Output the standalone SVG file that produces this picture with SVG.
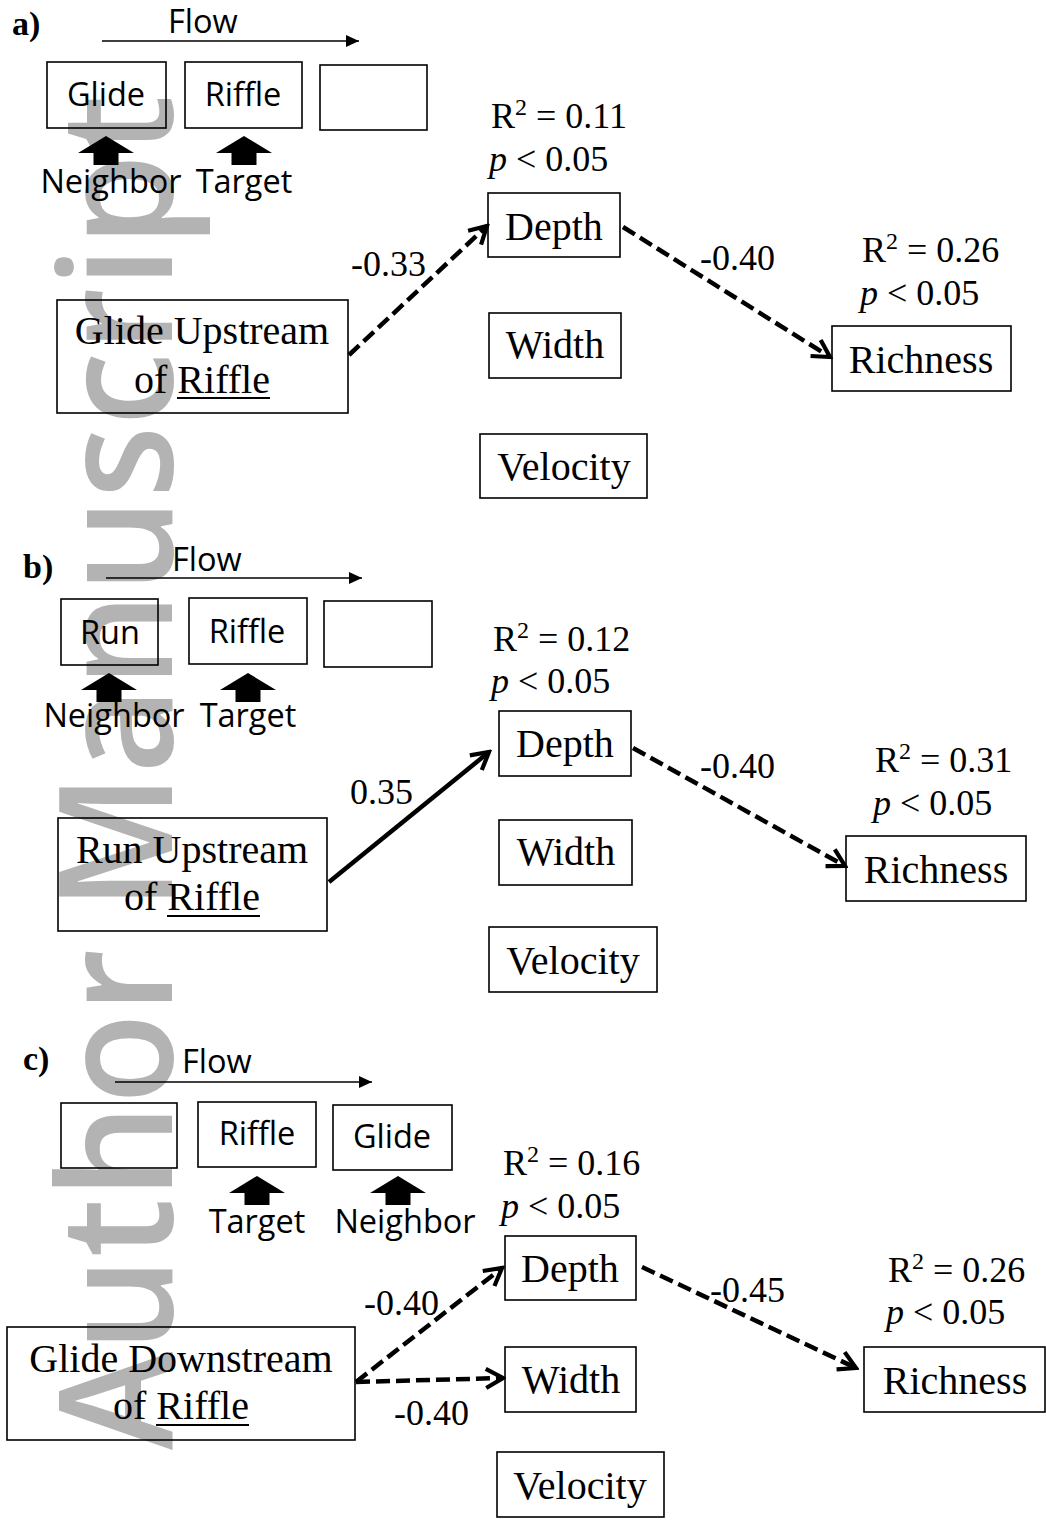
<svg xmlns="http://www.w3.org/2000/svg" width="1046" height="1522" viewBox="0 0 1046 1522">
<style>
.wm{font-family:"Open Sans","Noto Sans",sans-serif;font-size:157px;font-weight:600;fill:#b3b3b3}
.box{fill:none;stroke:#000;stroke-width:1.6}
.sans{font-family:"Open Sans","Noto Sans",sans-serif;font-size:32.5px;fill:#000}
.ser{font-family:"Liberation Serif","Times New Roman",serif;font-size:40px;fill:#000}
.lab{font-family:"Liberation Serif","Times New Roman",serif;font-size:36px;fill:#000}
.pl{font-family:"Liberation Serif","Times New Roman",serif;font-size:34px;font-weight:bold;fill:#000}
.flow{stroke:#000;stroke-width:1.6;fill:none}
.dash{stroke:#000;stroke-width:4.5;fill:none;stroke-dasharray:14 6}
.solid{stroke:#000;stroke-width:4.5;fill:none}
.ul{stroke:#000;stroke-width:1.8}
</style>
<defs>
<marker id="chev" viewBox="0 0 24 24" refX="21" refY="12" markerWidth="24" markerHeight="24" markerUnits="userSpaceOnUse" orient="auto">
<path d="M4,2.5 L21,12 L4,21.5" fill="none" stroke="#000" stroke-width="4.2"/>
</marker>
<marker id="tri" viewBox="0 0 13 12" refX="13" refY="6" markerWidth="13" markerHeight="12" markerUnits="userSpaceOnUse" orient="auto">
<path d="M0,0 L13,6 L0,12 Z" fill="#000"/>
</marker>
<path id="up" d="M0,0 L28,17 L12.5,17 L12.5,29 L-12.5,29 L-12.5,17 L-28,17 Z" fill="#000"/>
</defs>

<text class="wm" transform="translate(172,1450) rotate(-90)" textLength="1355" lengthAdjust="spacingAndGlyphs">Author Manuscript</text>

<!-- Panel a -->
<g id="panel-a">
<text class="pl" x="12" y="35">a)</text>
<text class="sans" x="168" y="33">Flow</text>
<g id="a-glide"><rect class="box" x="47" y="62" width="119" height="66"/><text class="sans" x="106" y="106" text-anchor="middle">Glide</text></g>
<g id="a-riffle"><rect class="box" x="185" y="62" width="117" height="66"/><text class="sans" x="243" y="106" text-anchor="middle">Riffle</text></g>
<g id="a-empty"><rect class="box" x="320" y="65" width="107" height="65"/></g>
<use href="#up" x="106" y="136"/>
<use href="#up" x="244" y="136"/>
<text class="sans" x="111" y="193" text-anchor="middle">Neighbor</text>
<text class="sans" x="244" y="193" text-anchor="middle">Target</text>
<g id="a-stats1"><text class="lab" x="491" y="128">R<tspan font-size="24" dy="-13">2</tspan><tspan dy="13"> = 0.11</tspan></text>
<text class="lab" x="489" y="171"><tspan font-style="italic">p</tspan> &lt; 0.05</text></g>
<g id="a-depth"><rect class="box" x="488" y="193" width="132" height="64"/><text class="ser" x="554" y="240" text-anchor="middle">Depth</text></g>
<g id="a-width"><rect class="box" x="489" y="313" width="132" height="65"/><text class="ser" x="555" y="358" text-anchor="middle">Width</text></g>
<g id="a-velocity"><rect class="box" x="480" y="434" width="167" height="64"/><text class="ser" x="564" y="480" text-anchor="middle">Velocity</text></g>
<g id="a-source"><rect class="box" x="57" y="300" width="291" height="113"/><text class="ser" x="202" y="344" text-anchor="middle">Glide Upstream</text><text class="ser" x="202" y="393" text-anchor="middle">of Riffle</text><line class="ul" x1="177" y1="398" x2="270" y2="398"/></g>
<g id="a-stats2"><text class="lab" x="862" y="262">R<tspan font-size="24" dy="-13">2</tspan><tspan dy="13"> = 0.26</tspan></text>
<text class="lab" x="860" y="305"><tspan font-style="italic">p</tspan> &lt; 0.05</text></g>
<g id="a-richness"><rect class="box" x="832" y="326" width="179" height="65"/><text class="ser" x="921" y="373" text-anchor="middle">Richness</text></g>
</g>

<!-- Panel b -->
<g id="panel-b">
<text class="pl" x="23" y="578">b)</text>
<text class="sans" x="172" y="571">Flow</text>
<g id="b-run"><rect class="box" x="61" y="599" width="97" height="66"/><text class="sans" x="110" y="644" text-anchor="middle">Run</text></g>
<g id="b-riffle"><rect class="box" x="189" y="598" width="118" height="66"/><text class="sans" x="247" y="643" text-anchor="middle">Riffle</text></g>
<g id="b-empty"><rect class="box" x="324" y="601" width="108" height="66"/></g>
<use href="#up" x="109" y="673"/>
<use href="#up" x="248" y="673"/>
<text class="sans" x="114" y="727" text-anchor="middle">Neighbor</text>
<text class="sans" x="248" y="727" text-anchor="middle">Target</text>
<g id="b-stats1"><text class="lab" x="493" y="651">R<tspan font-size="24" dy="-13">2</tspan><tspan dy="13"> = 0.12</tspan></text>
<text class="lab" x="491" y="693"><tspan font-style="italic">p</tspan> &lt; 0.05</text></g>
<g id="b-depth"><rect class="box" x="499" y="711" width="132" height="65"/><text class="ser" x="565" y="757" text-anchor="middle">Depth</text></g>
<g id="b-width"><rect class="box" x="499" y="820" width="133" height="65"/><text class="ser" x="566" y="865" text-anchor="middle">Width</text></g>
<g id="b-velocity"><rect class="box" x="489" y="927" width="168" height="65"/><text class="ser" x="573" y="974" text-anchor="middle">Velocity</text></g>
<g id="b-source"><rect class="box" x="58" y="818" width="269" height="113"/><text class="ser" x="192" y="863" text-anchor="middle">Run Upstream</text><text class="ser" x="192" y="910" text-anchor="middle">of Riffle</text><line class="ul" x1="167" y1="916" x2="260" y2="916"/></g>
<g id="b-stats2"><text class="lab" x="875" y="772">R<tspan font-size="24" dy="-13">2</tspan><tspan dy="13"> = 0.31</tspan></text>
<text class="lab" x="873" y="815"><tspan font-style="italic">p</tspan> &lt; 0.05</text></g>
<g id="b-richness"><rect class="box" x="846" y="836" width="180" height="65"/><text class="ser" x="936" y="883" text-anchor="middle">Richness</text></g>
</g>

<!-- Panel c -->
<g id="panel-c">
<text class="pl" x="23" y="1070">c)</text>
<text class="sans" x="182" y="1073">Flow</text>
<g id="c-empty"><rect class="box" x="61" y="1103" width="116" height="65"/></g>
<g id="c-riffle"><rect class="box" x="198" y="1102" width="118" height="65"/><text class="sans" x="257" y="1145" text-anchor="middle">Riffle</text></g>
<g id="c-glide"><rect class="box" x="333" y="1105" width="119" height="65"/><text class="sans" x="392" y="1148" text-anchor="middle">Glide</text></g>
<use href="#up" x="257" y="1176"/>
<use href="#up" x="398" y="1176"/>
<text class="sans" x="257" y="1233" text-anchor="middle">Target</text>
<text class="sans" x="405" y="1233" text-anchor="middle">Neighbor</text>
<g id="c-stats1"><text class="lab" x="503" y="1175">R<tspan font-size="24" dy="-13">2</tspan><tspan dy="13"> = 0.16</tspan></text>
<text class="lab" x="501" y="1218"><tspan font-style="italic">p</tspan> &lt; 0.05</text></g>
<g id="c-depth"><rect class="box" x="505" y="1236" width="131" height="64"/><text class="ser" x="570" y="1282" text-anchor="middle">Depth</text></g>
<g id="c-width"><rect class="box" x="505" y="1347" width="131" height="65"/><text class="ser" x="571" y="1393" text-anchor="middle">Width</text></g>
<g id="c-velocity"><rect class="box" x="497" y="1452" width="167" height="65"/><text class="ser" x="580" y="1499" text-anchor="middle">Velocity</text></g>
<g id="c-source"><rect class="box" x="7" y="1327" width="348" height="113"/><text class="ser" x="181" y="1372" text-anchor="middle">Glide Downstream</text><text class="ser" x="181" y="1419" text-anchor="middle">of Riffle</text><line class="ul" x1="156" y1="1425" x2="249" y2="1425"/></g>
<g id="c-stats2"><text class="lab" x="888" y="1282">R<tspan font-size="24" dy="-13">2</tspan><tspan dy="13"> = 0.26</tspan></text>
<text class="lab" x="886" y="1324"><tspan font-style="italic">p</tspan> &lt; 0.05</text></g>
<g id="c-richness"><rect class="box" x="864" y="1347" width="181" height="65"/><text class="ser" x="955" y="1394" text-anchor="middle">Richness</text></g>
</g>

<g id="connectors">
<line class="flow" x1="102" y1="41" x2="359" y2="41" marker-end="url(#tri)"/>
<line class="flow" x1="106" y1="578" x2="362" y2="578" marker-end="url(#tri)"/>
<line class="flow" x1="115" y1="1082" x2="372" y2="1082" marker-end="url(#tri)"/>
<line class="dash" x1="349" y1="355" x2="487" y2="226" marker-end="url(#chev)"/>
<line class="dash" x1="623" y1="227" x2="830" y2="357" marker-end="url(#chev)"/>
<line class="solid" x1="329" y1="882" x2="489" y2="752" marker-end="url(#chev)"/>
<line class="dash" x1="633" y1="748" x2="845" y2="866" marker-end="url(#chev)"/>
<line class="dash" x1="356" y1="1382" x2="502" y2="1268" marker-end="url(#chev)"/>
<line class="dash" x1="356" y1="1382" x2="503" y2="1378" marker-end="url(#chev)"/>
<line class="dash" x1="642" y1="1267" x2="856" y2="1368" marker-end="url(#chev)"/>
</g>
<g id="edge-labels">
<text class="lab" x="351" y="276">-0.33</text>
<text class="lab" x="700" y="270">-0.40</text>
<text class="lab" x="350" y="804">0.35</text>
<text class="lab" x="700" y="778">-0.40</text>
<text class="lab" x="364" y="1315">-0.40</text>
<text class="lab" x="394" y="1425">-0.40</text>
<text class="lab" x="710" y="1302">-0.45</text>
</g>
</svg>
